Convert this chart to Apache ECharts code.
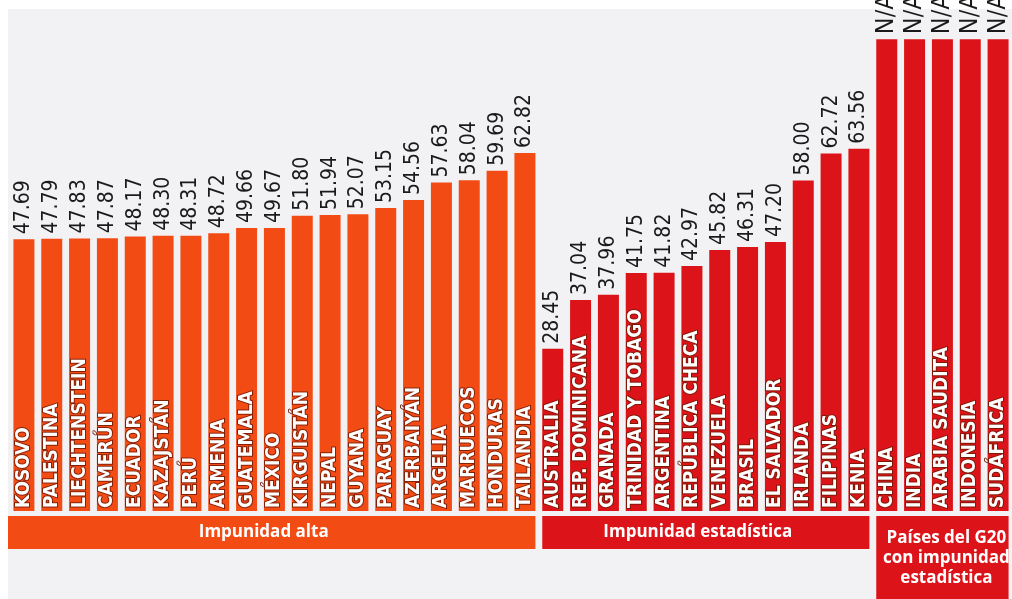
<!DOCTYPE html>
<html><head><meta charset="utf-8">
<script src="https://cdn.jsdelivr.net/npm/echarts@6/dist/echarts.min.js"></script>
<style>html,body{margin:0;padding:0;background:#fff;overflow:hidden}#c{width:1012px;height:599px}</style>
</head><body><div id="c"></div>
<script>
const categoriesAlta = ['KOSOVO','PALESTINA','LIECHTENSTEIN','CAMERÚN','ECUADOR','KAZAJSTÁN','PERÚ','ARMENIA','GUATEMALA','MÉXICO','KIRGUISTÁN','NEPAL','GUYANA','PARAGUAY','AZERBAIYÁN','ARGELIA','MARRUECOS','HONDURAS','TAILANDIA'];
const valuesAlta = [47.69,47.79,47.83,47.87,48.17,48.30,48.31,48.72,49.66,49.67,51.80,51.94,52.07,53.15,54.56,57.63,58.04,59.69,62.82];
const categoriesEstadistica = ['AUSTRALIA','REP. DOMINICANA','GRANADA','TRINIDAD Y TOBAGO','ARGENTINA','REPÚBLICA CHECA','VENEZUELA','BRASIL','EL SALVADOR','IRLANDA','FILIPINAS','KENIA'];
const valuesEstadistica = [28.45,37.04,37.96,41.75,41.82,42.97,45.82,46.31,47.20,58.00,62.72,63.56];
const categoriesG20 = ['CHINA','INDIA','ARABIA SAUDITA','INDONESIA','SUDÁFRICA'];
const barHeightsG20 = [82.8,82.8,82.8,82.8,82.8];
const labelsG20 = ['N/A','N/A','N/A','N/A','N/A'];
const groupNames = ['Impunidad alta','Impunidad estadística','Países del G20\ncon impunidad\nestadística'];

const ORANGE = '#F34B14';
const RED = '#DC1419';
const groupColors = [ORANGE, RED, RED];
const NARROW = '"Liberation Sans Narrow", "DejaVu Sans Condensed", "Roboto", sans-serif';

const categories = [].concat(categoriesAlta, categoriesEstadistica, categoriesG20);
const values = [].concat(valuesAlta, valuesEstadistica, barHeightsG20);
const valueLabels = [].concat(valuesAlta.map(v => v.toFixed(2)), valuesEstadistica.map(v => v.toFixed(2)), labelsG20);
const n1 = categoriesAlta.length, n2 = categoriesEstadistica.length, n3 = categoriesG20.length;
const groupRanges = [[0, n1 - 1], [n1, n1 + n2 - 1], [n1 + n2, n1 + n2 + n3 - 1]];

const barData = values.map((v, i) => ({
  value: v,
  itemStyle: { color: i < n1 ? ORANGE : RED }
}));

const chart = echarts.init(document.getElementById('c'), null, { renderer: 'canvas' });
chart.setOption({
  animation: false,
  backgroundColor: '#ffffff',
  graphic: [{
    type: 'rect', left: 8, top: 9, z: -10,
    shape: { width: 1010, height: 600 },
    style: { fill: '#F2F2F4' }
  }],
  grid: { left: 10, right: -3.8, top: 9.5, bottom: 88 },
  xAxis: {
    type: 'category', data: categories,
    axisLine: { show: false }, axisTick: { show: false }, axisLabel: { show: false }, splitLine: { show: false }
  },
  yAxis: {
    type: 'value', min: 0, max: 88, show: false, splitLine: { show: false }
  },
  series: [
    {
      type: 'bar', data: barData, barWidth: 21, z: 2,
      label: {
        show: true, position: 'top', rotate: 90, align: 'left', verticalAlign: 'middle', distance: 5,
        formatter: p => {
          const t = valueLabels[p.dataIndex];
          return isNaN(parseFloat(t)) ? '{na|' + t + '}' : t;
        },
        color: '#1a1a1a', fontSize: 21, fontFamily: NARROW,
        rich: { na: { fontSize: 25, fontWeight: 500, color: '#1a1a1a', fontFamily: NARROW } }
      }
    },
    {
      type: 'bar', data: values, barWidth: 21, barGap: '-100%', z: 3, silent: true,
      itemStyle: { color: 'rgba(0,0,0,0)' },
      label: {
        show: true, position: 'insideBottom', rotate: 90, align: 'left', verticalAlign: 'middle', distance: 3,
        formatter: p => categories[p.dataIndex],
        color: '#ffffff', fontSize: 19, fontWeight: 'bold', fontFamily: NARROW,
        textBorderColor: 'rgba(110,25,5,0.85)', textBorderWidth: 2
      }
    },
    {
      type: 'custom', silent: true, z: 4,
      data: groupRanges,
      renderItem: function (params, api) {
        const i = params.dataIndex;
        const s = api.value(0), e = api.value(1);
        const half = 10.5;
        const ps = api.coord([s, 0]);
        const pe = api.coord([e, 0]);
        let x0 = ps[0] - half;
        if (i === 0) x0 = params.coordSys.x - 2;
        const x1 = pe[0] + half;
        const lines = groupNames[i].split('\n').length;
        const top = ps[1] + 5;
        const h = lines > 1 ? api.getHeight() - top + 2 : 33;
        const cy = lines > 1 ? top + 42 : top + 16.5;
        const cx = lines > 1 ? (x0 + x1) / 2 + 4 : (x0 + x1) / 2 - 8;
        return {
          type: 'group',
          children: [
            { type: 'rect', shape: { x: x0, y: top, width: x1 - x0, height: h }, style: { fill: groupColors[i] } },
            { type: 'text', style: { text: groupNames[i], x: cx, y: cy, fill: '#ffffff',
              font: 'bold 17px "Open Sans", sans-serif', align: 'center', verticalAlign: 'middle', lineHeight: 20 } }
          ]
        };
      }
    }
  ]
});
</script></body></html>
